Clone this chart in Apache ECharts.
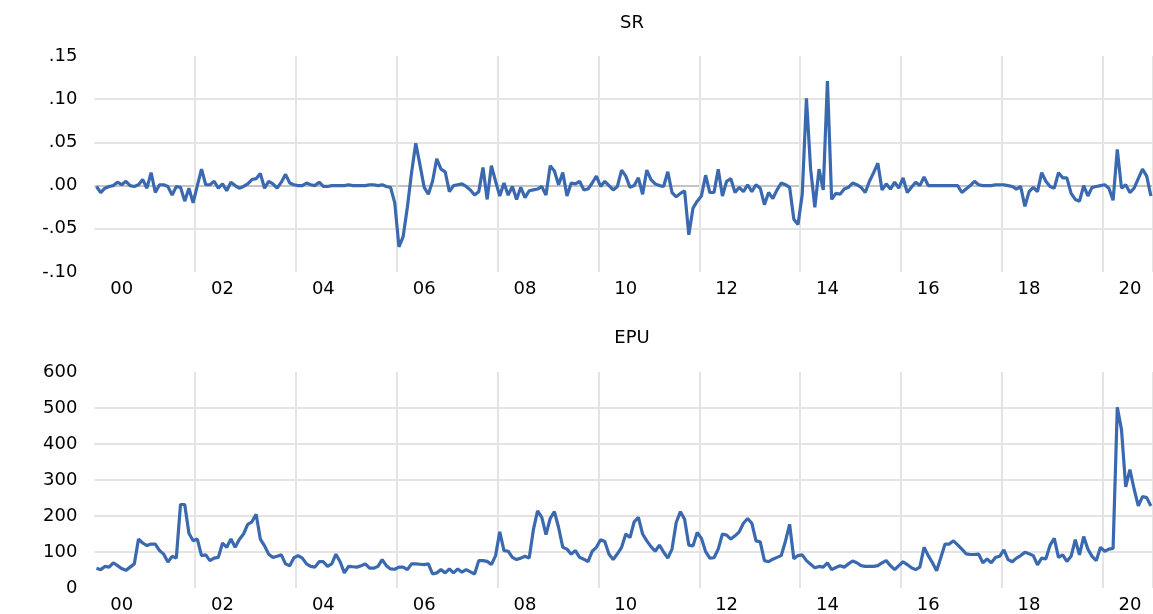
<!DOCTYPE html>
<html>
<head>
<meta charset="utf-8">
<script src="https://cdn.jsdelivr.net/npm/echarts@6/dist/echarts.min.js"></script>
<style>
html,body{margin:0;padding:0;background:#fff;}
#chart{width:1153px;height:614px;}
</style>
</head>
<body>
<div id="chart"></div>
<script>
// Monthly observations, Jan 2000 - Dec 2020 (one row per year)
const startYear = 2000;
const endYear = 2020;

const srValues = [
  -0.001,-0.008,-0.003,-0.001,0.000,0.004,0.001,0.005,0.000,-0.001,0.001,0.007,
  -0.003,0.015,-0.008,0.001,0.001,-0.001,-0.011,-0.001,-0.002,-0.018,-0.003,-0.020,
  0.000,0.019,0.001,0.001,0.005,-0.003,0.002,-0.006,0.004,0.000,-0.003,-0.001,
  0.002,0.007,0.008,0.014,-0.003,0.005,0.002,-0.003,0.004,0.013,0.003,0.001,
  0.000,0.000,0.003,0.001,0.000,0.004,-0.001,-0.001,0.000,0.000,0.000,0.000,
  0.001,0.000,0.000,0.000,0.000,0.001,0.001,0.000,0.001,-0.001,-0.002,-0.020,
  -0.071,-0.059,-0.025,0.015,0.049,0.024,-0.002,-0.010,0.005,0.031,0.019,0.016,
  -0.007,0.000,0.001,0.002,-0.001,-0.005,-0.011,-0.007,0.021,-0.016,0.023,0.005,
  -0.012,0.003,-0.011,-0.001,-0.016,-0.002,-0.014,-0.006,-0.005,-0.004,-0.001,-0.011,
  0.023,0.017,0.001,0.015,-0.012,0.003,0.002,0.005,-0.005,-0.004,0.003,0.011,
  -0.001,0.005,0.000,-0.005,-0.001,0.018,0.011,-0.002,0.000,0.009,-0.010,0.018,
  0.007,0.002,0.000,-0.001,0.016,-0.008,-0.013,-0.009,-0.006,-0.057,-0.026,-0.018,
  -0.012,0.012,-0.008,-0.008,0.019,-0.012,0.005,0.008,-0.008,-0.002,-0.007,0.001,
  -0.007,0.001,-0.003,-0.022,-0.008,-0.015,-0.005,0.003,0.001,-0.002,-0.039,-0.045,
  -0.010,0.101,0.019,-0.025,0.019,-0.005,0.121,-0.016,-0.009,-0.010,-0.004,-0.002,
  0.003,0.001,-0.002,-0.008,0.005,0.015,0.026,-0.005,0.002,-0.004,0.004,-0.003,
  0.009,-0.008,-0.002,0.004,0.000,0.010,0.000,0.000,0.000,0.000,0.000,0.000,
  0.000,0.000,-0.008,-0.004,0.000,0.005,0.001,0.000,0.000,0.000,0.001,0.001,
  0.001,0.000,-0.001,-0.004,-0.001,-0.024,-0.007,-0.002,-0.007,0.015,0.005,-0.001,
  -0.003,0.015,0.009,0.009,-0.009,-0.016,-0.018,0.000,-0.012,-0.002,-0.001,0.000,
  0.001,-0.003,-0.017,0.042,-0.003,0.001,-0.008,-0.003,0.008,0.019,0.011,-0.012
];

const epuValues = [
  55,51,60,58,70,62,54,49,58,67,136,125,
  118,122,122,104,94,72,88,83,232,232,152,131,
  136,90,92,76,83,85,125,113,136,113,135,150,
  177,184,205,136,117,94,85,88,92,67,62,84,
  90,83,67,60,58,73,73,60,67,94,73,42,
  60,59,58,62,67,55,55,60,79,62,53,52,
  58,58,51,67,67,66,65,67,39,42,51,42,
  53,42,53,44,51,45,39,76,76,74,65,90,
  156,104,102,85,79,83,88,83,162,214,196,148,
  193,212,168,113,108,94,104,85,80,73,102,113,
  134,129,94,79,95,113,150,140,184,196,150,131,
  115,102,119,100,83,108,182,212,191,119,117,154,
  138,101,83,84,108,150,147,136,145,156,180,193,
  180,131,128,76,73,80,85,90,130,177,81,90,
  92,76,66,56,60,58,70,51,57,62,58,67,
  75,70,62,60,60,60,62,70,76,62,51,62,
  73,65,56,51,58,113,90,70,48,85,122,122,
  131,120,108,95,93,93,94,70,81,70,85,88,
  106,79,73,83,90,99,95,90,64,83,81,119,
  138,85,92,74,88,134,92,143,108,88,76,113,
  102,108,110,502,440,281,329,275,228,254,251,228
];

const srTicks = {min: -0.10, max: 0.15, interval: 0.05};
const epuTicks = {min: 0, max: 600, interval: 100};
const titles = ['SR', 'EPU'];

const categories = [];
for (let y = startYear; y <= endYear; y++) {
  for (let m = 1; m <= 12; m++) {
    categories.push(y + '-' + (m < 10 ? '0' + m : m));
  }
}

const FONT = 'DejaVu Sans';
const gridColor = '#e4e4e4';

function srFmt(v) {
  if (Math.abs(v) < 1e-9) return '.00';
  const s = Math.abs(v).toFixed(2).replace(/^0/, '');
  return (v < 0 ? '-' : '') + s;
}

function xAxisFor(gridIndex) {
  return {
    type: 'category',
    gridIndex: gridIndex,
    data: categories,
    boundaryGap: true,
    axisLine: {show: false},
    axisTick: {show: false},
    axisLabel: {
      interval: function (i) { return i % 24 === 6; },
      formatter: function (v) { return v.slice(2, 4); },
      fontFamily: FONT, fontSize: 18, color: '#000', margin: 8
    },
    splitLine: {
      show: true,
      interval: function (i) { return i > 0 && i % 24 === 0; },
      lineStyle: {color: gridColor, width: 2}
    }
  };
}

const chart = echarts.init(document.getElementById('chart'), null, {renderer: 'canvas'});
chart.setOption({
  animation: false,
  backgroundColor: '#fff',
  title: [
    {text: titles[0], left: 627, top: 9, textAlign: 'center',
     textStyle: {fontFamily: FONT, fontSize: 18, fontWeight: 'normal', color: '#000'}},
    {text: titles[1], left: 627, top: 324, textAlign: 'center',
     textStyle: {fontFamily: FONT, fontSize: 18, fontWeight: 'normal', color: '#000'}}
  ],
  grid: [
    {left: 94.4, right: 0, top: 56, height: 216},
    {left: 94.4, right: 0, top: 372, height: 217}
  ],
  xAxis: [xAxisFor(0), xAxisFor(1)],
  yAxis: [
    {
      type: 'value', gridIndex: 0,
      min: srTicks.min, max: srTicks.max, interval: srTicks.interval,
      axisLine: {show: false}, axisTick: {show: false},
      axisLabel: {formatter: srFmt, fontFamily: FONT, fontSize: 18, color: '#000', margin: 17},
      splitLine: {show: true, lineStyle: {
        color: ['rgba(0,0,0,0)', gridColor, '#c4c4c4', gridColor, gridColor, 'rgba(0,0,0,0)'],
        width: 2}}
    },
    {
      type: 'value', gridIndex: 1,
      min: epuTicks.min, max: epuTicks.max, interval: epuTicks.interval,
      axisLine: {show: false}, axisTick: {show: false},
      axisLabel: {fontFamily: FONT, fontSize: 18, color: '#000', margin: 17},
      splitLine: {show: true, lineStyle: {
        color: ['rgba(0,0,0,0)', gridColor, gridColor, gridColor, gridColor, gridColor, 'rgba(0,0,0,0)'],
        width: 2}}
    }
  ],
  series: [
    {type: 'line', xAxisIndex: 0, yAxisIndex: 0, data: srValues, showSymbol: false,
     symbol: 'none', lineStyle: {color: '#3a69b0', width: 3.2}, clip: true},
    {type: 'line', xAxisIndex: 1, yAxisIndex: 1, data: epuValues, showSymbol: false,
     symbol: 'none', lineStyle: {color: '#3a69b0', width: 3.2}, clip: true}
  ]
});
</script>
</body>
</html>
